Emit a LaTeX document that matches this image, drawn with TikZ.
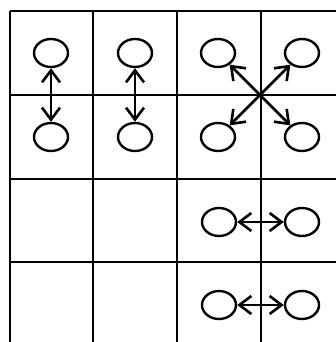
\documentclass[tikz,border=0pt]{standalone}
\usetikzlibrary{arrows.meta,shapes.geometric}

\begin{document}
\begin{tikzpicture}[
  x=0.5pt, y=-0.5pt,
  grid/.style={line width=1pt},
  cell/.style={draw, ellipse, line width=1.2pt, minimum width=17pt,
               minimum height=14pt, inner sep=0pt},
  arr/.style={{Straight Barb[length=6pt,width=9pt]}-{Straight Barb[length=6pt,width=9pt]},
              line width=1.3pt}
]
  \useasboundingbox (0,0) rectangle (336,342);
  \clip (0,0) rectangle (336,342);
  \fill[white] (0,0) rectangle (336,342);

  % grid, cut off at the right and bottom
  \foreach \x in {10,93,177,261}
    \draw[grid] (\x,11) -- (\x,350);
  \foreach \y in {11,95,179,262}
    \draw[grid] (10,\y) -- (350,\y);

  \node[cell] (a1) at (51,53) {};
  \node[cell] (a2) at (51,137) {};
  \node[cell] (b1) at (135,53) {};
  \node[cell] (b2) at (135,137) {};
  \node[cell] (c1) at (218,53) {};
  \node[cell] (c2) at (218,137) {};
  \node[cell] (d1) at (302,53) {};
  \node[cell] (d2) at (302,137) {};
  \node[cell] (e1) at (219,222) {};
  \node[cell] (e2) at (302,222) {};
  \node[cell] (f1) at (219,305) {};
  \node[cell] (f2) at (302,305) {};

  \draw[arr] (a1) -- (a2);
  \draw[arr] (b1) -- (b2);
  \draw[arr] (c1) -- (d2);
  \draw[arr] (c2) -- (d1);
  \draw[arr] (e1) -- (e2);
  \draw[arr] (f1) -- (f2);
\end{tikzpicture}
\end{document}
